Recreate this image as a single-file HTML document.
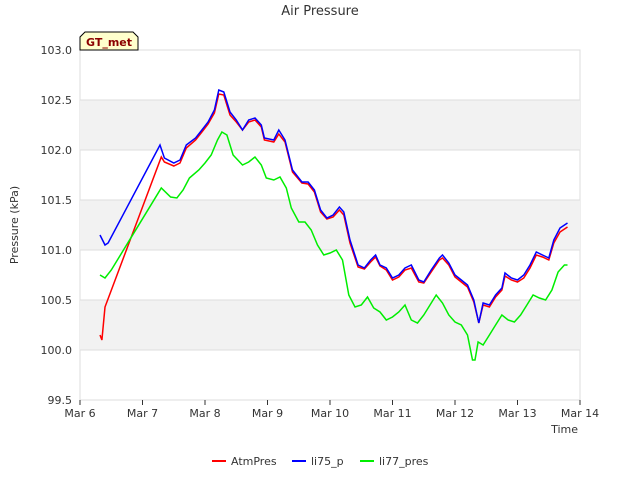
<!DOCTYPE html>
<html><head><meta charset="utf-8"><style>body{margin:0;background:#fff}svg{display:block;font-family:"DejaVu Sans","Liberation Sans",sans-serif}</style></head>
<body>
<svg id="chart" width="640" height="480">
<rect width="640" height="480" fill="#fff"/>
<text x="320" y="15" text-anchor="middle" font-size="13" fill="#333">Air Pressure</text>
<g id="bands"></g>
<g id="axes"></g>
<g id="series"></g>
<g>
<path d="M80,50 L80,37 L85,32 L133,32 L138,37 L138,50 Z" fill="#ffffcc" stroke="#000"/>
<text x="109" y="46" text-anchor="middle" font-size="11" font-weight="bold" fill="#8b0000">GT_met</text>
</g>
<text x="18" y="225" text-anchor="middle" font-size="11" fill="#333" transform="rotate(-90 18 225)">Pressure (kPa)</text>
<text x="578" y="433" text-anchor="end" font-size="11" fill="#333">Time</text>
<g id="legend"></g>
</svg>
<script>
const yTicks=[99.5,100.0,100.5,101.0,101.5,102.0,102.5,103.0];
const xTickDays=[0,1,2,3,4,5,6,7,8];
const xTickLabels=["Mar 6","Mar 7","Mar 8","Mar 9","Mar 10","Mar 11","Mar 12","Mar 13","Mar 14"];
const seriesNames=["AtmPres","li75_p","li77_pres"];
const seriesColors=["#ff0000","#0000ff","#00ee00"];
const blueT=[6.32,6.4,6.45,7.28,7.35,7.5,7.6,7.7,7.85,7.95,8.05,8.15,8.22,8.3,8.4,8.5,8.6,8.7,8.8,8.9,8.95,9.1,9.18,9.28,9.4,9.55,9.65,9.75,9.85,9.95,10.05,10.15,10.22,10.32,10.45,10.55,10.65,10.73,10.8,10.9,11.0,11.1,11.2,11.3,11.42,11.5,11.62,11.75,11.8,11.9,12.0,12.1,12.2,12.3,12.38,12.45,12.55,12.65,12.75,12.8,12.9,13.0,13.1,13.2,13.3,13.4,13.5,13.58,13.68,13.8];
const blueV=[101.15,101.05,101.07,102.05,101.92,101.87,101.9,102.05,102.12,102.2,102.28,102.4,102.6,102.58,102.38,102.3,102.2,102.3,102.32,102.25,102.12,102.1,102.2,102.1,101.8,101.68,101.68,101.6,101.4,101.32,101.35,101.43,101.38,101.1,100.85,100.82,100.9,100.95,100.85,100.82,100.72,100.75,100.82,100.85,100.7,100.68,100.8,100.92,100.95,100.87,100.75,100.7,100.65,100.5,100.27,100.47,100.45,100.55,100.62,100.77,100.72,100.7,100.75,100.85,100.98,100.95,100.92,101.1,101.22,101.27];
const redT=[6.32,6.35,6.4,7.3,7.35,7.5,7.6,7.7,7.85,7.95,8.05,8.15,8.22,8.3,8.4,8.5,8.6,8.7,8.8,8.9,8.95,9.1,9.18,9.28,9.4,9.55,9.65,9.75,9.85,9.95,10.05,10.15,10.22,10.32,10.45,10.55,10.65,10.73,10.8,10.9,11.0,11.1,11.2,11.3,11.42,11.5,11.62,11.75,11.8,11.9,12.0,12.1,12.2,12.3,12.38,12.45,12.55,12.65,12.75,12.8,12.9,13.0,13.1,13.2,13.3,13.4,13.5,13.58,13.68,13.8];
const redV=[100.15,100.1,100.43,101.93,101.88,101.84,101.87,102.02,102.1,102.18,102.26,102.37,102.56,102.55,102.35,102.28,102.2,102.28,102.3,102.23,102.1,102.08,102.16,102.08,101.78,101.67,101.66,101.58,101.38,101.31,101.33,101.4,101.35,101.07,100.83,100.81,100.88,100.93,100.84,100.8,100.7,100.73,100.8,100.82,100.68,100.67,100.78,100.9,100.92,100.85,100.73,100.68,100.63,100.48,100.27,100.45,100.43,100.53,100.6,100.74,100.7,100.68,100.72,100.82,100.95,100.93,100.9,101.07,101.18,101.23];
const greenT=[6.32,6.4,6.5,7.3,7.45,7.55,7.65,7.75,7.9,8.0,8.1,8.2,8.27,8.35,8.45,8.6,8.7,8.8,8.9,8.98,9.1,9.2,9.3,9.38,9.5,9.6,9.7,9.8,9.9,10.0,10.1,10.2,10.3,10.4,10.5,10.6,10.7,10.8,10.9,11.0,11.1,11.2,11.3,11.4,11.5,11.6,11.7,11.8,11.9,12.0,12.1,12.2,12.28,12.32,12.37,12.45,12.55,12.65,12.75,12.85,12.95,13.05,13.15,13.25,13.35,13.45,13.55,13.65,13.75,13.8];
const greenV=[100.75,100.72,100.8,101.62,101.53,101.52,101.6,101.72,101.8,101.87,101.95,102.1,102.18,102.15,101.95,101.85,101.88,101.93,101.85,101.72,101.7,101.73,101.62,101.42,101.28,101.28,101.2,101.05,100.95,100.97,101.0,100.9,100.55,100.43,100.45,100.53,100.42,100.38,100.3,100.33,100.38,100.45,100.3,100.27,100.35,100.45,100.55,100.47,100.35,100.28,100.25,100.15,99.9,99.9,100.08,100.05,100.15,100.25,100.35,100.3,100.28,100.35,100.45,100.55,100.52,100.5,100.6,100.78,100.85,100.85];
const NS="http://www.w3.org/2000/svg";
const L=80,R=580,T=50,B=400;
function xs(d){return L+(d-6)/8*(R-L);}
function ys(v){return B-(v-99.5)/3.5*(B-T);}
function mk(tag,attrs,parent){const e=document.createElementNS(NS,tag);for(const k in attrs)e.setAttribute(k,attrs[k]);parent.appendChild(e);return e;}
const bands=document.getElementById('bands'),axes=document.getElementById('axes'),ser=document.getElementById('series'),leg=document.getElementById('legend');
mk('rect',{x:L,y:T,width:R-L,height:B-T,fill:'#fff',stroke:'#ddd'},bands);
for(let i=0;i<yTicks.length-1;i++){
 if(i%2===1){const r=mk('rect',{x:L,y:ys(yTicks[i+1]),width:R-L,height:ys(yTicks[i])-ys(yTicks[i+1]),fill:'#f2f2f2'},bands);
 
 }
}
yTicks.forEach(v=>{
 mk('line',{x1:L,x2:R,y1:ys(v),y2:ys(v),stroke:'#ddd'},axes);
 const t=mk('text',{x:L-8,y:ys(v)+4,'text-anchor':'end','font-size':11,fill:'#333'},axes);t.textContent=v.toFixed(1);
 
 
});
xTickDays.forEach((d,i)=>{
 const x=xs(6+d);
 mk('line',{x1:x,x2:x,y1:B,y2:B+5,stroke:'#333'},axes);
 const t=mk('text',{x:x,y:B+17,'text-anchor':'middle','font-size':11,fill:'#333'},axes);t.textContent=xTickLabels[i];
 
 
});
const data=[[redT,redV],[blueT,blueV],[greenT,greenV]];
data.forEach((s,i)=>{
 const pts=s[0].map((t,j)=>xs(t).toFixed(1)+','+ys(s[1][j]).toFixed(1)).join(' ');
 const p=mk('polyline',{points:pts,fill:'none',stroke:seriesColors[i],'stroke-width':1.5},ser);
 
 
});
const lx=[212,292,360];
seriesNames.forEach((n,i)=>{
 const g=mk('g',{},leg);
 
 
 mk('line',{x1:lx[i],x2:lx[i]+14,y1:461,y2:461,stroke:seriesColors[i],'stroke-width':2},g);
 const t=mk('text',{x:lx[i]+19,y:465,'font-size':11,fill:'#333'},g);t.textContent=n;
});
</script>
</body></html>
